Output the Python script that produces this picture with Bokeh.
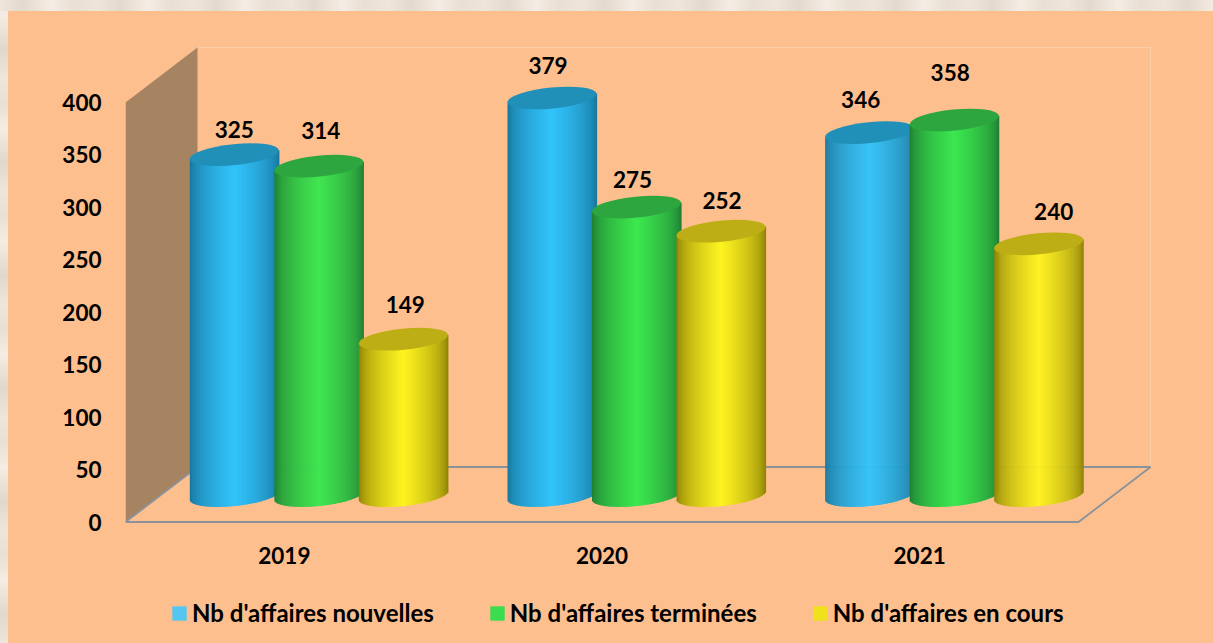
import numpy as np
from bokeh.embed import file_html
from bokeh.resources import INLINE
from bokeh.plotting import figure
from bokeh.models import (ColumnDataSource, Range1d, FixedTicker, LinearAxis, Legend, LegendItem)
from bokeh.core.properties import value

# ---------- data ----------
years = ["2019", "2020", "2021"]
series_names = ["Nb d'affaires nouvelles", "Nb d'affaires terminées", "Nb d'affaires en cours"]
nouvelles = [325, 379, 346]
terminees = [314, 275, 358]
en_cours = [149, 252, 240]
y_ticks = [0, 50, 100, 150, 200, 250, 300, 350, 400]

# ---------- style ----------
PEACH = "#FDBF8E"
CREAM = "#EFE5DA"
WALL = "#A68462"
FLOOR_LINE = "#8A929B"
BACK_LINE = "#F9CFA9"
FONT = "Lato"
FS = "22.5px"
LEGEND_FS = "24px"
centres = [(50, 196, 252), (61, 232, 80), (255, 244, 33)]
edges = [(22, 112, 150), (30, 120, 50), (135, 122, 5)]
tops = ["#2090B8", "#2EA640", "#BDAE15"]
swatches = ["#55C6F0", "#3CDC50", "#F0E01E"]

# ---------- geometry (pixels per data unit) ----------
PX_CAT = 317.67
PX_VAL = 1.0488
DEPTH_X = 72 / PX_CAT
DEPTH_Y = 55 / PX_VAL
BAR_DX = 34.5 / PX_CAT      # the bars stand half way into the floor
BAR_DY = 26.5 / PX_VAL
SPACING = 84.5 / PX_CAT
A = 44.5
B = 10.5
SLOPE = 0.10

p = figure(width=1197, height=620, output_backend="svg", toolbar_location=None,
           x_range=Range1d(0, 1080 / PX_CAT),
           y_range=Range1d(-109.5 / PX_VAL, 510.5 / PX_VAL),
           x_axis_type=None, y_axis_type=None,
           frame_width=1080, frame_height=620,
           min_border_left=117, min_border_right=0, min_border_top=0, min_border_bottom=0,
           background_fill_color=PEACH, border_fill_color=PEACH, outline_line_color=None)
p.xgrid.visible = False
p.ygrid.visible = False

# back wall edges
p.line([DEPTH_X, 3 + DEPTH_X, 3 + DEPTH_X], [400 + DEPTH_Y, 400 + DEPTH_Y, DEPTH_Y],
       line_color=BACK_LINE, line_width=1)
# side wall
p.patch([0, 0, DEPTH_X, DEPTH_X], [0, 400, 400 + DEPTH_Y, DEPTH_Y], fill_color=WALL, line_color=None)
# floor
p.line([0, 3, 3 + DEPTH_X, DEPTH_X, 0], [0, 0, DEPTH_Y, DEPTH_Y, 0], line_color=FLOOR_LINE, line_width=1.8)

# cylinders
offs = np.arange(-A, A, 1.0)
values = [nouvelles, terminees, en_cours]
label_x, label_y, label_t, label_dx, label_dy = [], [], [], [], []
dx_px = [[0, -4, -9], [2, -4, -4], [2, 1, 15]]      # series by year label shifts
dy_px = [[24, 32, 32], [35, 27, 47], [34, 30, 31]]
for g in range(3):
    for s in range(3):
        v = values[s][g]
        xc = g + 0.5 + BAR_DX + (s - 1) * SPACING
        t = (offs + 0.5) / A
        prof = (1 - np.abs(t)) ** 0.55
        cols = []
        for k in prof:
            c = [int(edges[s][i] + (centres[s][i] - edges[s][i]) * k) for i in range(3)]
            cols.append("#%02x%02x%02x" % tuple(c))
        lean = SLOPE * (offs + 0.5)
        arc = B * np.sqrt(np.clip(1 - t ** 2, 0, 1))
        src = ColumnDataSource(dict(
            left=xc + offs / PX_CAT,
            right=xc + (offs + 1.6) / PX_CAT,
            top=v + BAR_DY + lean / PX_VAL,
            bottom=BAR_DY + (lean - arc) / PX_VAL,
            color=cols))
        p.quad(left="left", right="right", top="top", bottom="bottom", fill_color="color",
               fill_alpha=1.0, line_color=None, source=src)
        p.ellipse(x=[xc], y=[v + BAR_DY], width=2 * A + 0.6, height=2 * B, width_units="screen",
                  height_units="screen", angle=np.arctan(SLOPE), fill_color=tops[s], fill_alpha=1.0,
                  line_color=None)
        label_x.append(xc)
        label_y.append(v + BAR_DY)
        label_t.append(str(v))
        label_dx.append(dx_px[s][g])
        label_dy.append(dy_px[s][g] + 1)

p.text(x=label_x, y=label_y, text=label_t, x_offset=label_dx, y_offset=[-d for d in label_dy],
       text_font=value(FONT), text_font_style="bold", text_font_size=FS, text_color="#000000",
       text_align="center", text_baseline="middle")

# y axis
yax = LinearAxis(ticker=FixedTicker(ticks=y_ticks), axis_line_color=None, major_tick_line_color=None,
                 minor_tick_line_color=None, major_label_standoff=18,
                 major_label_text_font=FONT, major_label_text_font_style="bold",
                 major_label_text_font_size=FS, major_label_text_color="#000000")
p.add_layout(yax, "left")

# category labels under the floor
p.text(x=[i + 0.5 for i in range(len(years))], y=[0] * len(years), text=years, y_offset=33,
       text_font=value(FONT), text_font_style="bold", text_font_size=FS, text_color="#000000",
       text_align="center", text_baseline="middle")

# legend (the swatch renderers are degenerate quads out of view: only their legend glyph shows)
items = []
for s in range(3):
    r = p.quad(left=[-1], right=[-1], top=[0], bottom=[0], fill_color=swatches[s], line_color=None)
    items.append(LegendItem(label=series_names[s], renderers=[r]))
leg = Legend(items=items, orientation="horizontal", location=(45, 4), glyph_width=18, glyph_height=18,
             label_standoff=4, spacing=54, padding=0, margin=0, background_fill_alpha=0, border_line_color=None,
             label_text_font=FONT, label_text_font_style="bold", label_text_font_size=LEGEND_FS,
             label_text_color="#000000")
p.add_layout(leg)

H = "repeating-linear-gradient(90deg,#EFE5DA 0,#E4D9CD 23px,#F5ECE3 51px,#E9DFD3 74px,#EFE5DA 97px) 0 0/100% 11px no-repeat"
V = "repeating-linear-gradient(0deg,#EFE5DA 0,#E2D7CB 29px,#F5ECE3 63px,#E9DFD3 88px,#EFE5DA 113px) 0 0/8px 100% no-repeat"
CSS = (f"<style>html{{background:{H},{V},{PEACH};}}"
       "body{background:transparent;margin:11px 0 0 8px !important;}</style>")
open("out.html", "w").write(file_html(p, INLINE).replace("</head>", CSS + "</head>"))
